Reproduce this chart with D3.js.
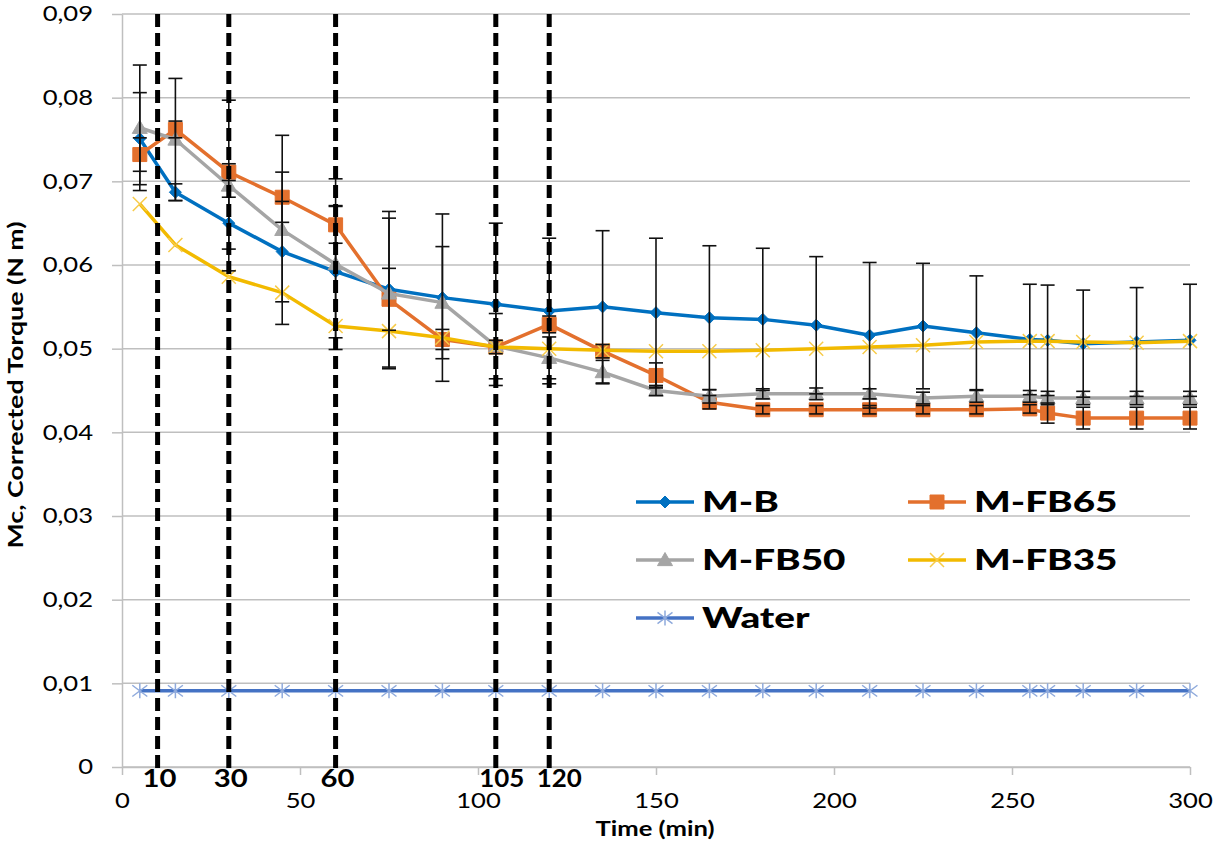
<!DOCTYPE html>
<html><head><meta charset="utf-8">
<script src="https://cdn.jsdelivr.net/npm/d3@7"></script>
<style>
body{margin:0;background:#fff}
svg{display:block}
text{font-family:Lato,"Open Sans",sans-serif;fill:#000}
</style></head><body>
<svg id="chart" width="1215" height="841"></svg>
<script>
// ---------- data ----------
const time = [5,15,30,45,60,75,90,105,120,135,150,165,180,195,210,225,240,255,260,270,285,300];
const mB    = [0.0751,0.0687,0.0650,0.0616,0.0592,0.0571,0.0561,0.0553,0.0545,0.0550,0.0543,0.0537,0.0535,0.0528,0.0516,0.0527,0.0519,0.0511,0.0510,0.0506,0.0508,0.0510];
const mFB65 = [0.0732,0.0762,0.0711,0.0681,0.0648,0.0559,0.0511,0.0502,0.0529,0.0497,0.0468,0.0436,0.0427,0.0427,0.0427,0.0427,0.0427,0.0428,0.0423,0.0417,0.0417,0.0417];
const mFB50 = [0.0764,0.0750,0.0695,0.0642,0.0601,0.0566,0.0555,0.0503,0.0489,0.0472,0.0450,0.0443,0.0446,0.0446,0.0446,0.0441,0.0443,0.0443,0.0441,0.0441,0.0441,0.0441];
const mFB35 = [0.0673,0.0624,0.0586,0.0567,0.0527,0.0521,0.0513,0.0502,0.0500,0.0498,0.0497,0.0497,0.0498,0.0500,0.0502,0.0504,0.0508,0.0509,0.0509,0.0508,0.0507,0.0509];
const water = [0.0091,0.0091,0.0091,0.0091,0.0091,0.0091,0.0091,0.0091,0.0091,0.0091,0.0091,0.0091,0.0091,0.0091,0.0091,0.0091,0.0091,0.0091,0.0091,0.0091,0.0091,0.0091];
const errMB   = [0.0055,0.0010,0.0031,0.0060,0.0079,0.0093,0.0100,0.0097,0.0087,0.0091,0.0089,0.0086,0.0085,0.0082,0.0087,0.0075,0.0068,0.0066,0.0066,0.0064,0.0065,0.0067];
const errFB65 = [0.0020,0.0010,0.0010,0.0030,0.0022,0.0037,0.0012,0.0008,0.0010,0.0008,0.0015,0.0008,0.0005,0.0005,0.0005,0.0005,0.0005,0.0005,0.0012,0.0013,0.0013,0.0013];
const errFB50 = [0.0075,0.0073,0.0102,0.0113,0.0102,0.0090,0.0067,0.0039,0.0025,0.0014,0.0006,0.0008,0.0006,0.0007,0.0006,0.0007,0.0007,0.0007,0.0008,0.0008,0.0008,0.0008];
const seriesNames = ["M-B","M-FB65","M-FB50","M-FB35","Water"];
const yTickVals = [0,0.01,0.02,0.03,0.04,0.05,0.06,0.07,0.08,0.09];
const yTickLabels = ["0","0,01","0,02","0,03","0,04","0,05","0,06","0,07","0,08","0,09"];
const xTickVals = [0,50,100,150,200,250,300];
const markTimes = [10,30,60,105,120];
const markLabels = ["10","30","60","105","120"];
const xTitle = "Time (min)";
const yTitle = "Mc, Corrected Torque (N m)";

// ---------- setup ----------
const svg = d3.select("#chart");
const L = 122, R = 1190, T = 14, B = 767;
const x = d3.scaleLinear().domain([0,300]).range([L,R]);
const y = d3.scaleLinear().domain([0,0.09]).range([B,T]);
const SX = 1.22;
const gridCol = "#bfbfbf";

// gridlines
svg.append("g").selectAll("line").data(yTickVals).join("line")
  .attr("x1",L).attr("x2",R).attr("y1",d=>y(d)).attr("y2",d=>y(d))
  .attr("stroke",gridCol).attr("stroke-width",1.5);

// y axis
const gy = svg.append("g").attr("transform",`translate(${L},0)`)
  .call(d3.axisLeft(y).tickValues(yTickVals).tickFormat((d,i)=>yTickLabels[i])
    .tickSize(10).tickSizeOuter(0).tickPadding(19));
gy.select(".domain").attr("stroke",gridCol).attr("stroke-width",1.5);
gy.selectAll(".tick line").attr("stroke",gridCol).attr("stroke-width",1.5);
gy.selectAll(".tick text").attr("font-size",21).attr("fill","#1a1a1a")
  .attr("font-family","Lato").each(function(){
    const t=d3.select(this); const xx=+t.attr("x");
    t.attr("x",0).attr("transform",`translate(${xx},0) scale(${SX},1)`);
  });

// x axis
const gx = svg.append("g").attr("transform",`translate(0,${B})`)
  .call(d3.axisBottom(x).tickValues(xTickVals).tickSize(8).tickSizeOuter(0).tickPadding(18));
gx.select(".domain").attr("stroke",gridCol).attr("stroke-width",1.5);
gx.selectAll(".tick line").attr("stroke",gridCol).attr("stroke-width",1.5);
gx.selectAll(".tick text").attr("font-size",21).attr("fill","#1a1a1a")
  .attr("font-family","Lato").attr("transform",`scale(${SX},1)`);

// ---------- marker shapes ----------
function diamondPath(s){return `M0,${-s}L${s},0L0,${s}L${-s},0Z`;}
function squarePath(s){return `M${-s},${-s}H${s}V${s}H${-s}Z`;}
function trianglePath(s){return `M0,${-s}L${s},${s*0.75}L${-s},${s*0.75}Z`;}
function xPath(s){return `M${-s},${-s}L${s},${s}M${-s},${s}L${s},${-s}`;}
function starPath(s){return `M${-s},${-s*0.75}L${s},${s*0.75}M${-s},${s*0.75}L${s},${-s*0.75}M0,${-s}V${s}`;}

const series = [
  {name:seriesNames[0], vals:mB,    err:errMB,   color:"#0070C0", mk:diamondPath(6),  mfill:"#0070C0", mstroke:"#0070C0", msw:1},
  {name:seriesNames[1], vals:mFB65, err:errFB65, color:"#E3702D", mk:squarePath(7),   mfill:"#E3702D", mstroke:"#E3702D", msw:1},
  {name:seriesNames[2], vals:mFB50, err:errFB50, color:"#A5A5A5", mk:trianglePath(7.5), mfill:"#A5A5A5", mstroke:"#A5A5A5", msw:1},
  {name:seriesNames[3], vals:mFB35, err:null,    color:"#F2BA00", mk:xPath(7),        mfill:"none",    mstroke:"#F7CB4A", msw:1.5},
  {name:seriesNames[4], vals:water, err:null,    color:"#4472C4", mk:starPath(7.5),   mfill:"none",    mstroke:"#8FAADC", msw:1.5}
];

const line = d3.line().x(d=>x(d.t)).y(d=>y(d.v));

series.forEach(s=>{
  const pts = time.map((t,i)=>({t, v:s.vals[i]}));
  const g = svg.append("g");
  g.append("path").datum(pts).attr("d",line).attr("fill","none")
    .attr("stroke",s.color).attr("stroke-width",3.5).attr("stroke-linejoin","round");
  g.selectAll("path.mk").data(pts).join("path").attr("class","mk")
    .attr("transform",d=>`translate(${x(d.t)},${y(d.v)})`).attr("d",s.mk)
    .attr("fill",s.mfill).attr("stroke",s.mstroke).attr("stroke-width",s.msw);
});

// error bars
const eg = svg.append("g").attr("stroke","#111").attr("stroke-width",1.6);
series.filter(s=>s.err).forEach(s=>{
  time.forEach((t,i)=>{
    const cx=x(t), y1=y(s.vals[i]+s.err[i]), y2=y(s.vals[i]-s.err[i]);
    eg.append("line").attr("x1",cx).attr("x2",cx).attr("y1",y1).attr("y2",y2);
    eg.append("line").attr("x1",cx-7).attr("x2",cx+7).attr("y1",y1).attr("y2",y1);
    eg.append("line").attr("x1",cx-7).attr("x2",cx+7).attr("y1",y2).attr("y2",y2);
  });
});

// dashed vertical markers
const mg = svg.append("g");
mg.selectAll("line").data(markTimes).join("line")
  .attr("x1",d=>x(d)).attr("x2",d=>x(d)).attr("y1",T).attr("y2",B+2)
  .attr("stroke","#000").attr("stroke-width",5).attr("stroke-dasharray","13,6");
mg.selectAll("text").data(markLabels).join("text")
  .attr("transform",(d,i)=>`translate(${x(markTimes[i]) + (i===3?6:(i===4?10:2))},787) scale(${d.length>2?1.08:SX},1)`)
  .attr("text-anchor","middle").attr("font-size",24).attr("font-weight","bold").text(d=>d);

// legend
const lg = svg.append("g");
series.forEach((s,i)=>{
  const col=i%2, row=Math.floor(i/2);
  const lx=636+col*272, ly=502+row*58;
  lg.append("line").attr("x1",lx).attr("x2",lx+58).attr("y1",ly).attr("y2",ly)
    .attr("stroke",s.color).attr("stroke-width",3.5);
  lg.append("path").attr("transform",`translate(${lx+29},${ly})`).attr("d",s.mk)
    .attr("fill",s.mfill).attr("stroke",s.mstroke).attr("stroke-width",s.msw);
  lg.append("text").attr("transform",`translate(${lx+66},${ly+10}) scale(1.38,1)`)
    .attr("font-size",28).attr("font-weight","900").text(s.name);
});

// titles
svg.append("text").attr("transform",`translate(655,836) scale(${SX},1)`)
  .attr("text-anchor","middle").attr("font-size",21).attr("font-weight","bold").text(xTitle);
svg.append("text").attr("transform",`translate(23,385) scale(1.1,1) rotate(-90)`)
  .attr("text-anchor","middle").attr("font-size",19).attr("font-weight","bold")
  .attr("textLength",327).attr("lengthAdjust","spacingAndGlyphs").text(yTitle);
</script>
</body></html>
